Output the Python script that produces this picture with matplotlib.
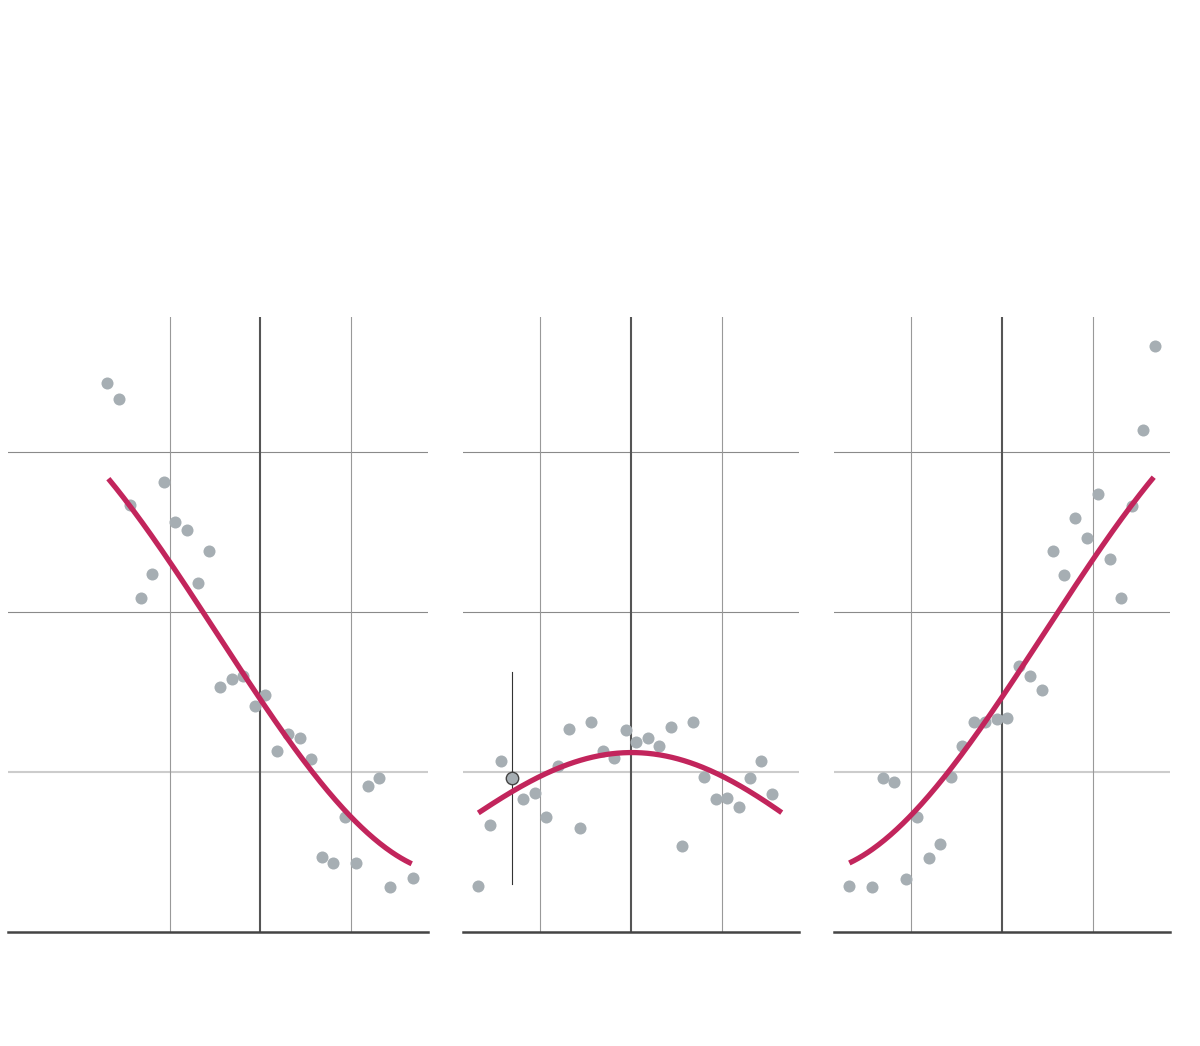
import numpy as np
import matplotlib
matplotlib.use("Agg")
import matplotlib.pyplot as plt

# panel 1: falling trend
x1 = [-1.69, -1.56, -1.44, -1.31, -1.19, -1.06, -0.94, -0.81, -0.69, -0.56,
      -0.44, -0.31, -0.19, -0.06, 0.06, 0.19, 0.31, 0.44, 0.56, 0.69,
      0.81, 0.94, 1.06, 1.19, 1.31, 1.44, 1.69]
y1 = [3.43, 3.33, 2.67, 2.09, 2.24, 2.81, 2.56, 2.51, 2.18, 2.38,
      1.53, 1.58, 1.60, 1.41, 1.48, 1.13, 1.24, 1.21, 1.08, 0.47,
      0.43, 0.72, 0.43, 0.91, 0.96, 0.28, 0.34]

# panel 2: hump
x2 = [-1.69, -1.56, -1.44, -1.31, -1.19, -1.06, -0.94, -0.81, -0.69, -0.56,
      -0.44, -0.31, -0.19, -0.06, 0.06, 0.19, 0.31, 0.44, 0.56, 0.69,
      0.81, 0.94, 1.06, 1.19, 1.31, 1.44, 1.56]
y2 = [0.29, 0.67, 1.07, 0.96, 0.83, 0.87, 0.72, 1.04, 1.27, 0.65,
      1.31, 1.13, 1.09, 1.26, 1.19, 1.21, 1.16, 1.28, 0.54, 1.31,
      0.97, 0.83, 0.84, 0.78, 0.96, 1.07, 0.86]

# panel 3: rising trend
x3 = [-1.69, -1.44, -1.31, -1.19, -1.06, -0.94, -0.81, -0.69, -0.56, -0.44,
      -0.31, -0.19, -0.06, 0.06, 0.19, 0.31, 0.44, 0.56, 0.69, 0.81,
      0.94, 1.06, 1.19, 1.31, 1.44, 1.56, 1.69]
y3 = [0.29, 0.28, 0.96, 0.94, 0.33, 0.72, 0.46, 0.55, 0.97, 1.16,
      1.31, 1.31, 1.33, 1.34, 1.66, 1.60, 1.51, 2.38, 2.23, 2.59,
      2.46, 2.74, 2.33, 2.09, 2.66, 3.14, 3.66]

# fitted curves
cx1 = [-1.676, -1.40, -1.002, -0.663, -0.295, 0.0, 0.295, 0.589, 0.939, 1.363, 1.676]
cy1 = [2.835, 2.627, 2.325, 2.029, 1.710, 1.444, 1.221, 1.002, 0.742, 0.554, 0.419]
cx2 = [-1.687, -1.466, -1.245, -0.994, -0.729, -0.361, 0.0, 0.357, 0.726, 0.994, 1.278, 1.665]
cy2 = [0.746, 0.825, 0.892, 0.981, 1.044, 1.100, 1.121, 1.100, 1.044, 0.981, 0.888, 0.746]
cx3 = [-1.687, -1.40, -1.002, -0.589, -0.295, 0.0, 0.295, 0.589, 0.994, 1.40, 1.676]
cy3 = [0.419, 0.544, 0.742, 1.002, 1.221, 1.450, 1.710, 1.998, 2.325, 2.637, 2.842]

# the highlighted point in the middle panel and its bar
hl_x, hl_y = -1.31, 0.96
bar_lo, bar_hi = 0.30, 1.625

dot = "#a6aeb3"
red = "#c2255c"

fig = plt.figure(figsize=(12, 10.46), dpi=100)
boxes = [
    [8 / 1200, 114 / 1046, 420 / 1200, 615 / 1046],
    [463 / 1200, 114 / 1046, 336 / 1200, 615 / 1046],
    [834 / 1200, 114 / 1046, 336 / 1200, 615 / 1046],
]
xlims = [(-2.785, 1.856), (-1.856, 1.856), (-1.856, 1.856)]
data = [(x1, y1, cx1, cy1, 3), (x2, y2, cx2, cy2, 4), (x3, y3, cx3, cy3, 3)]

for i, (box, xl, (xs, ys, cx, cy, deg)) in enumerate(zip(boxes, xlims, data)):
    ax = fig.add_axes(box)
    ax.set_xlim(*xl)
    ax.set_ylim(0, 3.844)
    for s in ["top", "right", "left"]:
        ax.spines[s].set_visible(False)
    ax.spines["bottom"].set_color("#444444")
    ax.spines["bottom"].set_linewidth(1.8)
    ax.set_xticks([])
    ax.set_yticks([])

    # grid
    ax.axhline(1, color="#cccccc", lw=1.5, zorder=1)
    for yy in [2, 3]:
        ax.axhline(yy, color="#8a8a8a", lw=0.8, zorder=1)
    for xx in [-1, 1]:
        ax.axvline(xx, color="#999999", lw=0.8, zorder=1)
    ax.axvline(0, color="#555555", lw=1.5, zorder=1)

    ax.scatter(xs, ys, s=75, color=dot, linewidths=0, zorder=2)

    # smooth polynomial through the read curve points
    coef = np.polyfit(cx, cy, deg)
    xx = np.linspace(cx[0], cx[-1], 200)
    ax.plot(xx, np.polyval(coef, xx), color=red, lw=3.8,
            solid_capstyle="butt", zorder=3)

    if i == 1:
        ax.plot([hl_x, hl_x], [bar_lo, bar_hi], color="#333333", lw=0.8, zorder=2)
        ax.scatter([hl_x], [hl_y], s=80, color=dot, edgecolors="#444444",
                   linewidths=1, zorder=2.5)

fig.savefig("out.png", dpi=100)
